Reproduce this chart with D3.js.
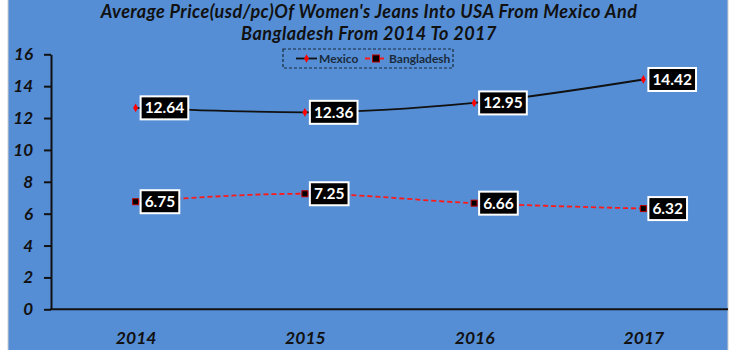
<!DOCTYPE html>
<html><head><meta charset="utf-8">
<script src="https://cdn.jsdelivr.net/npm/d3@7"></script>
<style>body{margin:0;background:#fff}svg{display:block}</style>
</head><body>
<svg id="c" width="740" height="350"></svg>
<script>
const years = ["2014", "2015", "2016", "2017"];
const mexico = [12.64, 12.36, 12.95, 14.42];
const bangladesh = [6.75, 7.25, 6.66, 6.32];
const yTicks = [0, 2, 4, 6, 8, 10, 12, 14, 16];
const titleLines = ["Average Price(usd/pc)Of Women's Jeans Into USA From Mexico And", "Bangladesh From 2014 To 2017"];
const seriesNames = ["Mexico", "Bangladesh"];

const svg = d3.select("#c");
const bg = "#558ED5";
svg.append("rect").attr("x", 0).attr("y", 0).attr("width", 740).attr("height", 350).attr("fill", "#fff");
svg.append("rect").attr("x", 8).attr("y", -2).attr("width", 720).attr("height", 354).attr("fill", bg).attr("stroke", "#d0d0d0").attr("stroke-width", 1);

const x = d3.scalePoint().domain(years).range([51, 728]).padding(0.5);
const y = d3.scaleLinear().domain([0, 16]).range([309.3, 54.3]);

const font = "Lato, 'Open Sans', sans-serif";

// title
svg.append("g").selectAll("text").data(titleLines).join("text")
  .attr("x", 369).attr("y", (d, i) => 17.5 + i * 22)
  .attr("text-anchor", "middle").attr("font-family", font).attr("font-size", 18)
  .attr("letter-spacing", 0.45)
  .attr("font-weight", "bold").attr("font-style", "italic").attr("fill", "#111")
  .text(d => d);

// y axis
const yAxis = svg.append("g").attr("transform", "translate(51,0)")
  .call(d3.axisLeft(y).tickValues(yTicks).tickSize(7).tickSizeOuter(0).tickPadding(11));
yAxis.select(".domain").attr("stroke", "#111").attr("stroke-width", 2);
yAxis.selectAll(".tick line").attr("stroke", "#111").attr("stroke-width", 2);
yAxis.selectAll(".tick text").attr("font-family", font).attr("font-size", 17)
  .attr("font-weight", "bold").attr("font-style", "italic").attr("fill", "#111");

// x axis
const xAxis = svg.append("g").attr("transform", "translate(0,309.3)")
  .call(d3.axisBottom(x).tickSize(0).tickPadding(22));
xAxis.select(".domain").attr("stroke", "#111").attr("stroke-width", 2).attr("d", "M50,0H728");
xAxis.selectAll(".tick text").attr("font-family", font).attr("font-size", 17.5)
  .attr("font-weight", "bold").attr("font-style", "italic").attr("fill", "#111");

const line = d3.line().x((d, i) => x(years[i])).y(d => y(d)).curve(d3.curveMonotoneX);

// lines
svg.append("path").datum(mexico).attr("d", line).attr("fill", "none")
  .attr("stroke", "#111").attr("stroke-width", 1.8);
svg.append("path").datum(bangladesh).attr("d", line).attr("fill", "none")
  .attr("stroke", "#ff1a1a").attr("stroke-width", 1.8).attr("stroke-dasharray", "5,3");

// markers
svg.append("g").selectAll("path").data(mexico).join("path")
  .attr("d", d3.symbol(d3.symbolDiamond, 22))
  .attr("transform", (d, i) => `translate(${x(years[i])},${y(d)})`)
  .attr("fill", "#ff0000");
svg.append("g").selectAll("rect").data(bangladesh).join("rect")
  .attr("x", (d, i) => x(years[i]) - 3).attr("y", d => y(d) - 3)
  .attr("width", 6).attr("height", 6).attr("fill", "#000").attr("stroke", "#c00000").attr("stroke-width", 1);

// data labels
function labels(vals) {
  const g = svg.append("g");
  vals.forEach((v, i) => {
    const px = x(years[i]), py = y(v);
    const lg = g.append("g");
    const t = lg.append("text").attr("x", px + 9).attr("y", py + 5.5)
      .attr("font-family", font).attr("font-size", 15.5).attr("font-weight", "bold")
      .attr("fill", "#fff").text(v.toFixed(2));
    const w = t.node().getComputedTextLength();
    lg.insert("rect", "text").attr("x", px + 5).attr("y", py - 11.5)
      .attr("width", w + 8).attr("height", 23)
      .attr("fill", "#000").attr("stroke", "#fff").attr("stroke-width", 2);
  });
}
labels(mexico);
labels(bangladesh);

// legend
const lg = svg.append("g");
lg.append("rect").attr("x", 283).attr("y", 49).attr("width", 170).attr("height", 19)
  .attr("fill", "none").attr("stroke", "#1a2a3a").attr("stroke-width", 1.2).attr("stroke-dasharray", "3,2");
const ly = 58.5;
lg.append("line").attr("x1", 296).attr("x2", 317).attr("y1", ly).attr("y2", ly).attr("stroke", "#111").attr("stroke-width", 1.8);
lg.append("path").attr("d", d3.symbol(d3.symbolDiamond, 20)).attr("transform", `translate(306.5,${ly})`).attr("fill", "#ff0000");
lg.append("text").attr("x", 319).attr("y", ly + 4).attr("font-family", font).attr("font-size", 12)
  .attr("font-weight", "bold").attr("fill", "#1a2a3a").text(seriesNames[0]);
lg.append("line").attr("x1", 365).attr("x2", 386).attr("y1", ly).attr("y2", ly).attr("stroke", "#ff1a1a").attr("stroke-width", 1.8).attr("stroke-dasharray", "5,2");
lg.append("rect").attr("x", 372.5).attr("y", ly - 3.5).attr("width", 7).attr("height", 7).attr("fill", "#000").attr("stroke", "#c00000");
lg.append("text").attr("x", 389).attr("y", ly + 4).attr("font-family", font).attr("font-size", 12)
  .attr("font-weight", "bold").attr("fill", "#1a2a3a").text(seriesNames[1]);
</script>
</body></html>
